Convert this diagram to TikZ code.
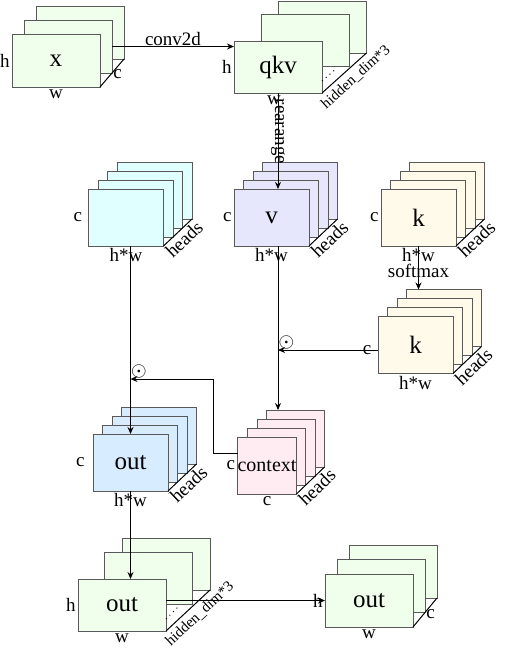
\documentclass[tikz,border=0pt]{standalone}
\usepackage{fontspec}
\setmainfont{Liberation Serif}
\usetikzlibrary{positioning,calc,arrows.meta}

\definecolor{mintfill}{RGB}{240,255,236}
\definecolor{cyanfill}{RGB}{224,255,255}
\definecolor{lavfill}{RGB}{230,231,252}
\definecolor{creamfill}{RGB}{255,250,234}
\definecolor{bluefill}{RGB}{216,236,255}
\definecolor{pinkfill}{RGB}{255,236,243}

\tikzset{
  layer/.style={draw=black!65, line width=0.5pt, inner sep=0pt, outer sep=0pt, font=\fontsize{12.5}{14}\selectfont},
  widelayer/.style={layer, fill=mintfill, minimum width=44pt, minimum height=26.5pt},
  headlayer/.style={layer, minimum width=37.5pt, minimum height=28.5pt},
  dimtext/.style={font=\fontsize{9.5}{11}\selectfont, inner sep=1pt},
  smalltext/.style={font=\fontsize{7.5}{8}\selectfont, inner sep=2pt},
  flow/.style={-{Stealth[length=3.5pt,width=3pt]}, line width=0.5pt},
}

\begin{document}
\begin{tikzpicture}[x=0.5pt, y=-0.5pt, line width=0.5pt]
\useasboundingbox (0,0) rectangle (505,649);

% input x
\node[widelayer] (xb) at (80,32.5) {};
\node[widelayer] (xm) at (68,46.5) {};
\node[widelayer] (xf) at (56,60.5) {x};
\node[dimtext, left=0pt of xf] (xh) {h};
\node[dimtext, below=0pt of xf] (xw) {w};
\draw (xf.south east) -- node[dimtext, right, pos=0.45] (xc) {c} (xb.south east);

% qkv
\node[widelayer, minimum height=26pt] (qkvb) at (322.5,27) {};
\node[widelayer, minimum height=26pt] (qkvm) at (305,40) {};
\node[widelayer, minimum height=26pt] (qkvf) at (278,67) {qkv};
\node[dimtext, left=0pt of qkvf] (qkvh) {h};
\node[dimtext, below=0pt of qkvf, xshift=-2pt] (qkvw) {w};
\draw[dotted] ($(qkvf.south east)+(0,-12)$) -- ++(15,-13);
\draw (qkvf.south east) -- node[smalltext, sloped, below, pos=0.6] (qkvd) {hidden\_dim*3} (qkvb.south east);

% heads stacks
\coordinate (cyanpos) at (126,217.5);
\foreach \i in {3,2,1,0}
  \node[headlayer, fill=cyanfill] (cyan\i) at ($(cyanpos)+(9.5*\i,-9*\i)$) {};
\node[dimtext, left=2pt of cyan0] (cyanc) {c};
\node[dimtext, below=0pt of cyan0] (cyanhw) {h*w};
\draw (cyan0.south east) -- node[dimtext, sloped, below] (cyanheads) {heads} (cyan3.south east);

\coordinate (vpos) at (271.5,217.5);
\foreach \i in {3,2,1}
  \node[headlayer, fill=lavfill] (v\i) at ($(vpos)+(9.5*\i,-9*\i)$) {};
\node[headlayer, fill=lavfill] (v0) at (vpos) {v};
\node[dimtext, left=0pt of v0] (vc) {c};
\node[dimtext, below=0pt of v0] (vhw) {h*w};
\draw (v0.south east) -- node[dimtext, sloped, below] (vheads) {heads} (v3.south east);

\coordinate (keypos) at (418.5,217.5);
\foreach \i in {3,2,1}
  \node[headlayer, fill=creamfill] (key\i) at ($(keypos)+(9.5*\i,-9*\i)$) {};
\node[headlayer, fill=creamfill] (key0) at (keypos) {k};
\node[dimtext, left=0pt of key0] (keyc) {c};
\node[dimtext, below=0pt of key0] (keyhw) {h*w};
\draw (key0.south east) -- node[dimtext, sloped, below] (keyheads) {heads} (key3.south east);

\coordinate (smpos) at (415.5,345);
\foreach \i in {3,2,1}
  \node[headlayer, fill=creamfill] (keysm\i) at ($(smpos)+(9.5*\i,-9*\i)$) {};
\node[headlayer, fill=creamfill] (keysm0) at (smpos) {k};
\node[dimtext, below=0pt of keysm0] (keysmhw) {h*w};
\draw (keysm0.south east) -- node[dimtext, sloped, below] (keysmheads) {heads} (keysm3.south east);

\coordinate (outpos) at (130.5,462.5);
\foreach \i in {3,2,1}
  \node[headlayer, fill=bluefill] (out\i) at ($(outpos)+(9.5*\i,-9*\i)$) {};
\node[headlayer, fill=bluefill] (out0) at (outpos) {out};
\node[dimtext, left=3pt of out0] (outc) {c};
\node[dimtext, below=0pt of out0] (outhw) {h*w};
\draw (out0.south east) -- node[dimtext, sloped, below] (outheads) {heads} (out3.south east);

\coordinate (ctxpos) at (267,465.5);
\foreach \i in {3,2,1}
  \node[headlayer, fill=pinkfill, minimum width=29pt] (ctx\i) at ($(ctxpos)+(9.5*\i,-9*\i)$) {};
\node[headlayer, fill=pinkfill, minimum width=29pt, font=\fontsize{10}{12}\selectfont] (ctx0) at (ctxpos) {context};
\node[dimtext, left=0pt of ctx0] (ctxc) {c};
\node[dimtext, below=0pt of ctx0] (ctxcb) {c};
\draw (ctx0.south east) -- node[dimtext, sloped, below] (ctxheads) {heads} (ctx3.south east);

% output projection
\node[widelayer, minimum height=26pt] (bob) at (166,564) {};
\node[widelayer, minimum height=26pt] (bom) at (148,578) {};
\node[widelayer, minimum height=26pt] (bof) at (122,605) {out};
\node[dimtext, left=0pt of bof] (bofh) {h};
\node[dimtext, below=0pt of bof] (bofw) {w};
\draw[dotted] ($(bof.south east)+(0,-12)$) -- ++(14,-14);
\draw (bof.south east) -- node[smalltext, sloped, below, pos=0.6] (bofd) {hidden\_dim*3} (bob.south east);

\node[widelayer] (finb) at (393,571.5) {};
\node[widelayer] (finm) at (381,586) {};
\node[widelayer] (finf) at (369,600.5) {out};
\node[dimtext, left=0pt of finf] (finh) {h};
\node[dimtext, below=0pt of finf] (finw) {w};
\draw (finf.south east) -- node[dimtext, right, pos=0.45] (finc) {c} (finb.south east);

% connectors
\draw[flow] (xm.east) -- node[dimtext, above, inner sep=0pt] (conv) {conv2d} (xm.east -| qkvf.west);
\draw[flow] (qkvf.south) -- node[dimtext, rotate=-90, pos=0.4] (rearr) {rearange} (qkvf.south |- v0.north);
\draw[flow] (key0.south) -- node[dimtext, pos=0.57] (smax) {softmax} (key0.south |- keysm3.north);
\draw[flow] (out0.north |- cyan0.south) -- (out0.north);
\draw[flow] (qkvf.south |- v0.south) -- (qkvf.south |- ctx3.north);

\coordinate (smout) at ($(keysm0.west)+(0,5)$);
\draw[flow] (smout) -- node[pos=1, above right, inner sep=0pt] (dotv) {$\odot$} (smout -| qkvf.south);
\node[dimtext] (keysmc) at ($(smout)+(-11,0)$) {c};

\coordinate (ctxout) at ($(ctx0.west)+(0,-12.5)$);
\coordinate (ctxturn) at (213,379);
\draw[flow] (ctxout) -| (ctxturn) -- node[pos=1, above right, inner sep=0pt] (dotout) {$\odot$} (ctxturn -| out0.north);

\draw[flow] (out0.south) -- (out0.south |- bof.north);
\draw[flow] (finf.west -| bof.east) -- (finf.west);
\end{tikzpicture}
\end{document}
